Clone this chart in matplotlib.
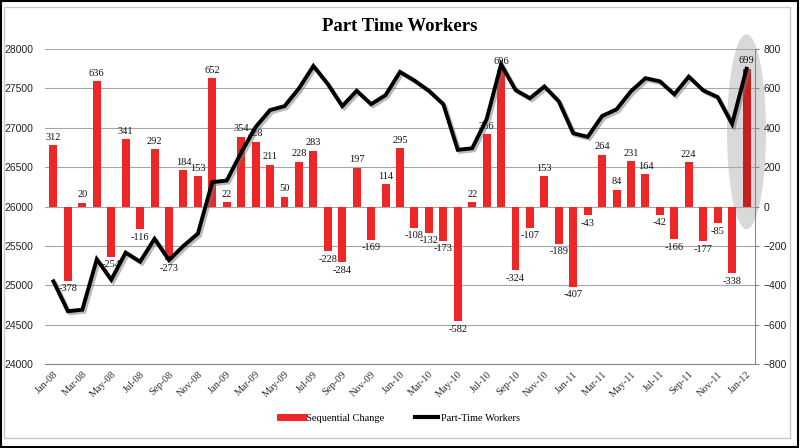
import matplotlib.pyplot as plt
import matplotlib.patheffects as pe
from matplotlib.patches import Ellipse, Rectangle
from matplotlib.lines import Line2D
import numpy as np

# months Jan-08 .. Jan-12
months = ['Jan-08', 'Feb-08', 'Mar-08', 'Apr-08', 'May-08', 'Jun-08', 'Jul-08', 'Aug-08',
          'Sep-08', 'Oct-08', 'Nov-08', 'Dec-08',
          'Jan-09', 'Feb-09', 'Mar-09', 'Apr-09', 'May-09', 'Jun-09', 'Jul-09', 'Aug-09',
          'Sep-09', 'Oct-09', 'Nov-09', 'Dec-09',
          'Jan-10', 'Feb-10', 'Mar-10', 'Apr-10', 'May-10', 'Jun-10', 'Jul-10', 'Aug-10',
          'Sep-10', 'Oct-10', 'Nov-10', 'Dec-10',
          'Jan-11', 'Feb-11', 'Mar-11', 'Apr-11', 'May-11', 'Jun-11', 'Jul-11', 'Aug-11',
          'Sep-11', 'Oct-11', 'Nov-11', 'Dec-11',
          'Jan-12']

# sequential change (thousands), right axis
change = [312, -378, 20, 636, -254, 341, -116, 292, -273, 184, 153, 652,
          22, 354, 328, 211, 50, 228, 283, -228, -284, 197, -169, 114,
          295, -108, -132, -173, -582, 22, 366, 696, -324, -107, 153, -189,
          -407, -43, 264, 84, 231, 164, -42, -166, 224, -177, -85, -338,
          699]

# part-time workers level (thousands), left axis
workers = [25050, 24670, 24690, 25330, 25070, 25415, 25300, 25590, 25320, 25500, 25655, 26310,
           26330, 26685, 27010, 27225, 27275, 27500, 27785, 27555, 27275, 27470, 27300, 27415,
           27710, 27600, 27470, 27300, 26720, 26740, 27110, 27805, 27480, 27375, 27525, 27335,
           26930, 26885, 27150, 27235, 27465, 27630, 27590, 27425, 27650, 27475, 27390, 27050,
           27750]

x = np.arange(len(months))
red = '#ee2626'

fig = plt.figure(figsize=(8, 4.48), dpi=100)
# outer frame
fig.patches.append(Rectangle((0.001, 0.002), 0.997, 0.995, transform=fig.transFigure,
                             fill=False, edgecolor='black', linewidth=1.5))
fig.patches.append(Rectangle((0.005, 0.022), 0.983, 0.962, transform=fig.transFigure,
                             fill=False, edgecolor='#c8c8c8', linewidth=1))

ax = fig.add_axes([0.056, 0.1875, 0.888, 0.703])

# highlight ellipse for latest month
ax.add_patch(Ellipse((48, 380), 2.7, 990, facecolor='#d9d9d9', edgecolor='none',
                     zorder=0.5, clip_on=False))

colors = [red] * (len(x) - 1) + ['#c81e1e']
ax.bar(x, change, width=0.55, color=colors, zorder=2)
ax.set_ylim(-800, 800)
ax.set_yticks(np.arange(-800, 801, 200))
ax.set_xlim(-0.6, len(x) - 0.4)
ax.grid(axis='y', color='#a6a6a6', linewidth=0.8)
ax.set_axisbelow(True)

for xi, v in zip(x, change):
    if v >= 0:
        ax.text(xi, v + 18, str(v), ha='center', va='bottom', fontsize=7.5,
                family='Liberation Serif', color='#111111', zorder=3)
    else:
        ax.text(xi, v - 18, str(v), ha='center', va='top', fontsize=7.5,
                family='Liberation Serif', color='#111111', zorder=3)

ax.set_xticks(x[::2])
ax.set_xticklabels(months[::2], rotation=45, ha='right', rotation_mode='anchor',
                   fontsize=7.5, family='Liberation Serif', color='#333333')
ax.tick_params(axis='x', length=0, pad=4)

for s in ['top', 'left']:
    ax.spines[s].set_visible(False)
ax.spines['right'].set_color('#888888')
ax.spines['bottom'].set_color('#888888')

ax2 = ax.twinx()
ax2.plot(x, workers, color='black', linewidth=2.8, solid_joinstyle='miter', zorder=4,
         path_effects=[pe.SimpleLineShadow(offset=(1.5, -1.5), shadow_color='#777777', alpha=0.5),
                       pe.Normal()])
ax2.set_ylim(24000, 28000)
ax2.set_yticks(np.arange(24000, 28001, 500))
for s in ax2.spines.values():
    s.set_visible(False)

# twinx moves the first axis' ticks to the left, so set sides afterwards
ax.yaxis.tick_right()
ax.tick_params(axis='y', length=3, labelsize=7.5, labelcolor='#222222', color='#888888', pad=3)
ax2.yaxis.tick_left()
ax2.tick_params(axis='y', length=0, labelsize=7.5, labelcolor='#222222', pad=8)
for lab in ax.get_yticklabels() + ax2.get_yticklabels():
    lab.set_family('Liberation Sans')

fig.text(0.5, 0.94, 'Part Time Workers', ha='center', va='center', fontsize=13.5,
         fontweight='bold', family='Liberation Serif')

handles = [Line2D([0], [0], color=red, linewidth=5),
           Line2D([0], [0], color='black', linewidth=3)]
fig.legend(handles, ['Sequential Change', 'Part-Time Workers'], loc='center',
           bbox_to_anchor=(0.5, 0.067), ncol=2, frameon=False,
           prop={'family': 'Liberation Serif', 'size': 7.5}, handlelength=2.2,
           columnspacing=3, handletextpad=0.3)

fig.savefig('out.png', dpi=100)
